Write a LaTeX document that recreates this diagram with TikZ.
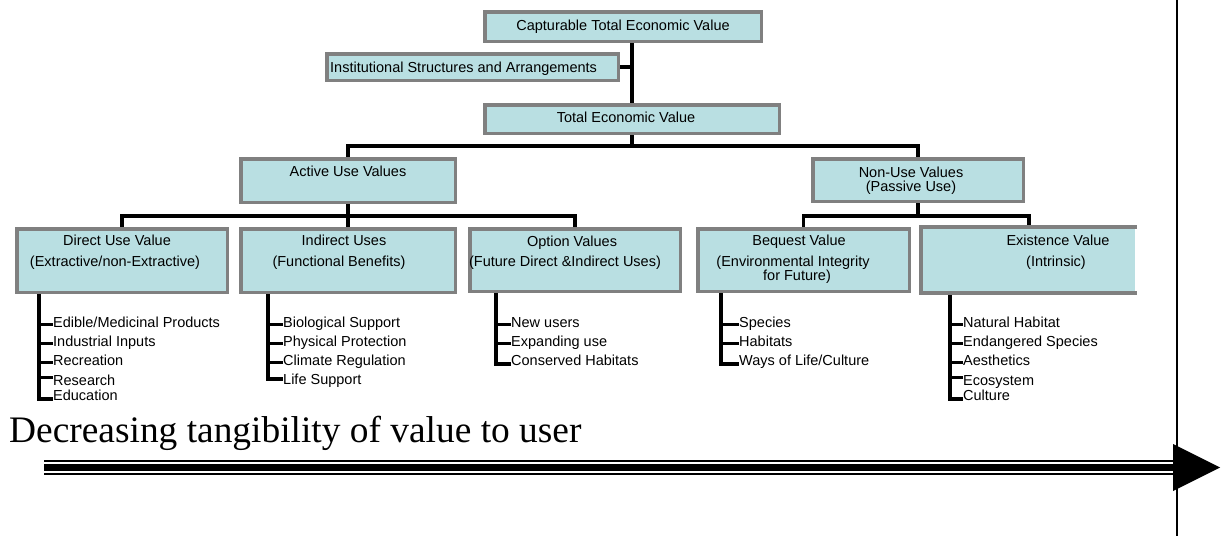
\documentclass[tikz,border=0pt]{standalone}
\usepackage{fontspec}
\setmainfont{Liberation Sans}
\newfontfamily\serifbig{Liberation Serif}
\usetikzlibrary{calc,backgrounds}
\definecolor{boxfill}{RGB}{185,223,226}
\definecolor{boxline}{RGB}{128,128,128}
\begin{document}
\begin{tikzpicture}[x=1pt,y=-1pt,
  box/.style={draw=boxline, fill=boxfill, line width=3.5pt, inner sep=0pt, rectangle},
  lbl/.style={font=\fontsize{14.5}{16}\selectfont, inner sep=0pt, anchor=base},
  item/.style={font=\fontsize{14.5}{16}\selectfont, inner sep=0pt, anchor=base west},
  conn/.style={line width=3.5pt, black},
  bar/.style={line width=3.5pt, black},
  tick/.style={line width=3pt, black}]
\useasboundingbox (0,0) rectangle (1222,536);

% boxes
\node[box, minimum width=276.5pt, minimum height=29.5pt] (cap) at (623,26.5) {};
\node[box, minimum width=291.5pt, minimum height=26.5pt] (inst) at (472.5,67) {};
\node[box, minimum width=294.5pt, minimum height=28.5pt] (tev) at (632,119) {};
\node[box, minimum width=214.5pt, minimum height=43.5pt] (active) at (348,180.5) {};
\node[box, minimum width=210.5pt, minimum height=42.5pt] (nonuse) at (918,180) {};
\node[box, minimum width=210.5pt, minimum height=63.5pt] (direct) at (122,260.5) {};
\node[box, minimum width=214.5pt, minimum height=63.5pt] (indirect) at (348,260.5) {};
\node[box, minimum width=210.5pt, minimum height=62.5pt] (option) at (575,260) {};
\node[box, minimum width=211.5pt, minimum height=62.5pt] (bequest) at (803.5,260) {};
\node[box, draw=none, minimum width=212.25pt, minimum height=62.5pt] (exist) at (1028.9,260) {};
\draw[boxline, line width=3.5pt] (exist.north east) -- (exist.north west) -- (exist.south west) -- (exist.south east);

% box texts
\node[lbl] (capT) at (623,30) {Capturable Total Economic Value};
\node[lbl, anchor=base west] (instT) at (330,72) {Institutional Structures and Arrangements};
\node[lbl] (tevT) at (626,122) {Total Economic Value};
\node[lbl] (activeT) at (348,176) {Active Use Values};
\node[lbl] (nonuseT1) at (911,177) {Non-Use Values};
\node[lbl] (nonuseT2) at (911,191) {(Passive Use)};
\node[lbl] (directT1) at (117,245) {Direct Use Value};
\node[lbl] (directT2) at (115,266) {(Extractive/non-Extractive)};
\node[lbl] (indirectT1) at (344,245) {Indirect Uses};
\node[lbl] (indirectT2) at (339,266) {(Functional Benefits)};
\node[lbl] (optionT1) at (572,246) {Option Values};
\node[lbl] (optionT2) at (565,266) {(Future Direct \&Indirect Uses)};
\node[lbl] (bequestT1) at (799,245) {Bequest Value};
\node[lbl] (bequestT2) at (793,266) {(Environmental Integrity};
\node[lbl] (bequestT3) at (797,280) {for Future)};
\node[lbl] (existT1) at (1058,245) {Existence Value};
\node[lbl] (existT2) at (1056,266) {(Intrinsic)};

% connectors (behind boxes)
\coordinate (busA) at (0,146);
\coordinate (busB) at (0,216);
\begin{scope}[on background layer]
\draw[conn] (cap.south -| tev.north) -- (tev.north);
\draw[conn] (inst.east) -- (inst.east -| tev.north);
\draw[conn] (tev.south) -- (tev.south |- busA);
\draw[conn] (active.north) -- (active.north |- busA) -- (nonuse.north |- busA) -- (nonuse.north);
\draw[conn] (active.south) -- (active.south |- busB);
\draw[conn] (direct.north) -- (direct.north |- busB) -- (option.north |- busB) -- (option.north);
\draw[conn] (indirect.north) -- (indirect.north |- busB);
\draw[conn] (nonuse.south) -- (nonuse.south |- busB);
\draw[conn] (bequest.north) -- (bequest.north |- busB) -- (exist.north |- busB) -- (exist.north);
\end{scope}

% list: direct use
\coordinate (dx) at (39,0);
\node[item] (d1) at (53,327) {Edible/Medicinal Products};
\node[item] (d2) at (53,346) {Industrial Inputs};
\node[item] (d3) at (53,365) {Recreation};
\node[item] (d4) at (53,385) {Research};
\node[item] (d5) at (53,400) {Education};
\begin{scope}[on background layer]
\draw[bar] (direct.south -| dx) -- ($(d5.base west)+(-14,-1)$) -- ($(d5.base west)+(0,-1)$);
\end{scope}
\draw[tick] ($(d1.base west)+(0,-3)$) -- ++(-14,0);
\draw[tick] ($(d2.base west)+(0,-3)$) -- ++(-14,0);
\draw[tick] ($(d3.base west)+(0,-3)$) -- ++(-14,0);
\draw[tick] ($(d4.base west)+(0,-8)$) -- ++(-14,0);

% list: indirect uses
\coordinate (ix) at (268,0);
\node[item] (i1) at (283,327) {Biological Support};
\node[item] (i2) at (283,346) {Physical Protection};
\node[item] (i3) at (283,365) {Climate Regulation};
\node[item] (i4) at (283,384) {Life Support};
\begin{scope}[on background layer]
\draw[bar] (indirect.south -| ix) -- ($(i4.base west)+(-15,-5)$) -- ($(i4.base west)+(0,-5)$);
\end{scope}
\draw[tick] ($(i1.base west)+(0,-3)$) -- ++(-15,0);
\draw[tick] ($(i2.base west)+(0,-3)$) -- ++(-15,0);
\draw[tick] ($(i3.base west)+(0,-3)$) -- ++(-15,0);

% list: option values
\coordinate (ox) at (496,0);
\node[item] (o1) at (511,327) {New users};
\node[item] (o2) at (511,346) {Expanding use};
\node[item] (o3) at (511,365) {Conserved Habitats};
\begin{scope}[on background layer]
\draw[bar] (option.south -| ox) -- ($(o3.base west)+(-15,-1)$) -- ($(o3.base west)+(0,-1)$);
\end{scope}
\draw[tick] ($(o1.base west)+(0,-3)$) -- ++(-15,0);
\draw[tick] ($(o2.base west)+(0,-3)$) -- ++(-15,0);

% list: bequest
\coordinate (bx) at (721,0);
\node[item] (b1) at (739,327) {Species};
\node[item] (b2) at (739,346) {Habitats};
\node[item] (b3) at (739,365) {Ways of Life/Culture};
\begin{scope}[on background layer]
\draw[bar] (bequest.south -| bx) -- ($(b3.base west)+(-18,-1)$) -- ($(b3.base west)+(0,-1)$);
\end{scope}
\draw[tick] ($(b1.base west)+(0,-3)$) -- ++(-18,0);
\draw[tick] ($(b2.base west)+(0,-3)$) -- ++(-18,0);

% list: existence
\coordinate (ex) at (950,0);
\node[item] (e1) at (963,327) {Natural Habitat};
\node[item] (e2) at (963,346) {Endangered Species};
\node[item] (e3) at (963,365) {Aesthetics};
\node[item] (e4) at (963,385) {Ecosystem};
\node[item] (e5) at (963,400) {Culture};
\begin{scope}[on background layer]
\draw[bar] (exist.south -| ex) -- ($(e5.base west)+(-13,-1)$) -- ($(e5.base west)+(0,-1)$);
\end{scope}
\draw[tick] ($(e1.base west)+(0,-3)$) -- ++(-13,0);
\draw[tick] ($(e2.base west)+(0,-3)$) -- ++(-13,0);
\draw[tick] ($(e3.base west)+(0,-3)$) -- ++(-13,0);
\draw[tick] ($(e4.base west)+(0,-8)$) -- ++(-13,0);

% title
\node[anchor=base west, inner sep=0pt, font=\serifbig\fontsize{37.4}{40}\selectfont] (title) at (9,442) {Decreasing tangibility of value to user};

% arrow
\coordinate (arS) at (44,467.5);
\coordinate (arE) at (1173,467.5);
\draw[line width=7pt] (arS) -- (arE);
\draw[line width=1.5pt] ($(arS)+(0,-6.5)$) -- ($(arE)+(0,-6.5)$);
\draw[line width=1.5pt] ($(arS)+(0,6.5)$) -- ($(arE)+(0,6.5)$);
\fill ($(arE)+(0,-23.5)$) -- ($(arE)+(47,0)$) -- ($(arE)+(0,23.5)$) -- cycle;

% right vertical rule
\coordinate (vt) at (1177,0);
\coordinate (vb) at (1177,536);
\draw[line width=2pt] (vt) -- (vb);
\end{tikzpicture}
\end{document}
